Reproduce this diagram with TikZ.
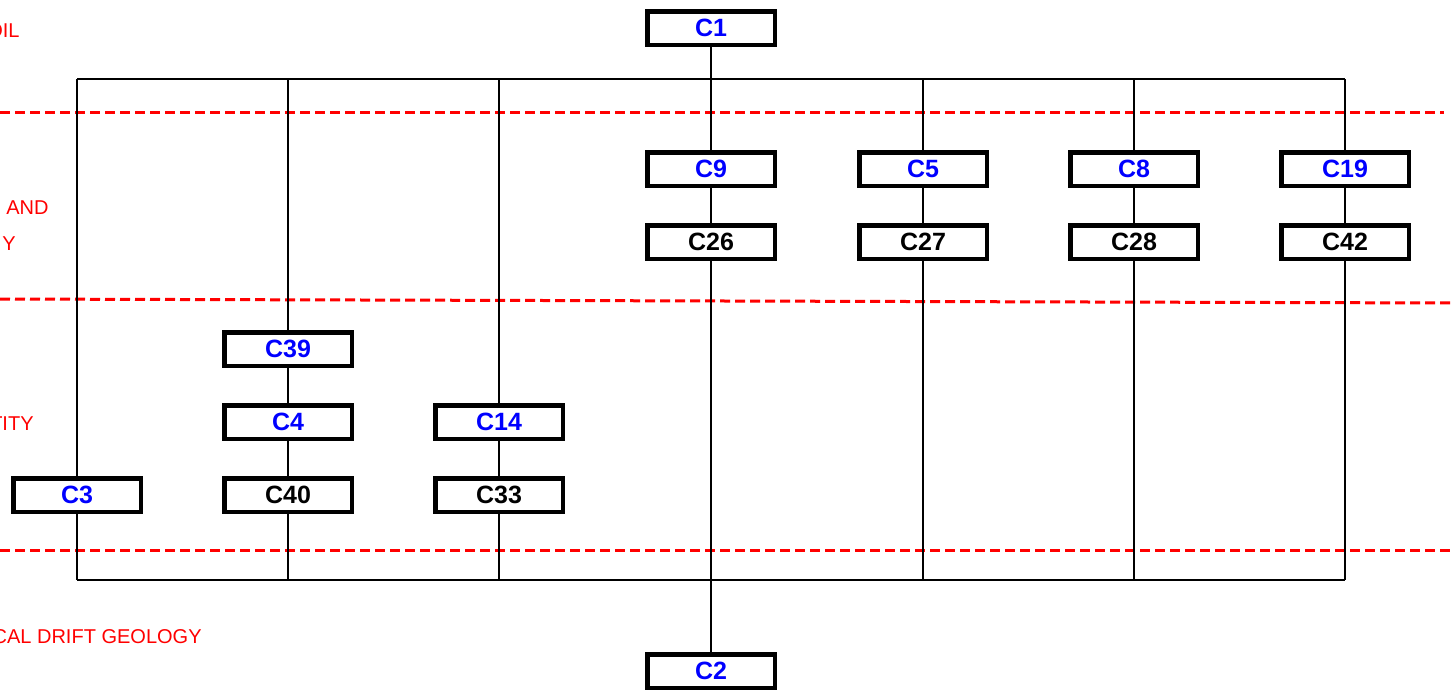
\documentclass[tikz,border=0pt]{standalone}
\usepackage{fontspec}
\setmainfont{Liberation Sans}
\usetikzlibrary{positioning, calc}
\definecolor{cLabelBlue}{RGB}{0,0,255}
\definecolor{cZoneRed}{RGB}{255,0,0}

\begin{document}
\begin{tikzpicture}[x=0.5pt, y=-0.5pt,
    unitbox/.style={draw, line width=2.25pt, fill=white, minimum width=63.75pt, minimum height=16.75pt, inner sep=0pt, font=\fontsize{12.5}{14}\selectfont\bfseries},
    topunit/.style={unitbox, text=cLabelBlue},
    lowunit/.style={unitbox, text=black},
    link/.style={line width=1pt},
    zoneline/.style={cZoneRed, line width=1.5pt, dash pattern=on 5pt off 2.5pt},
    zonetext/.style={cZoneRed, inner sep=0pt, anchor=base east, font=\fontsize{10}{12}\selectfont}]
    \useasboundingbox (0,0) rectangle (1454,691);
    \clip (0,0) rectangle (1454,691);

    % zone boundaries and zone names
    \draw[zoneline] (0,112) -- (1444,112);
    \draw[zoneline] (0,299) -- (1454,303);
    \draw[zoneline] (0,550) -- (1450,550);
    \node[zonetext] (zsoil) at (20,37) {OIL};
    \node[zonetext] (zand) at (49,214) {AND};
    \node[zonetext] (zy) at (16,250) {Y};
    \node[zonetext] (zity) at (34,430) {TITY};
    \node[zonetext] (zdrift) at (202,643) {CAL DRIFT GEOLOGY};

    % bus coordinates
    \coordinate (topL) at (77,79);
    \coordinate (topR) at (1345,79);
    \coordinate (botL) at (77,580);
    \coordinate (botR) at (1345,580);

    % top and bottom units
    \node[topunit] (c1) at (711,28) {C1};
    \node[topunit] (c2) at (711,671) {C2};

    % upper zone columns
    \node[topunit] (c9) at (711,169) {C9};
    \node[lowunit] (c26) at (711,242) {C26};
    \node[topunit] (c5) at (923,169) {C5};
    \node[lowunit] (c27) at (923,242) {C27};
    \node[topunit] (c8) at (1134,169) {C8};
    \node[lowunit] (c28) at (1134,242) {C28};
    \node[topunit] (c19) at (1345,169) {C19};
    \node[lowunit] (c42) at (1345,242) {C42};

    % lower zone columns
    \node[topunit] (c3) at (77,495) {C3};
    \node[topunit] (c39) at (288,349) {C39};
    \node[topunit] (c4) at (288,422) {C4};
    \node[lowunit] (c40) at (288,495) {C40};
    \node[topunit] (c14) at (499,422) {C14};
    \node[lowunit] (c33) at (499,495) {C33};

    % buses
    \draw[link] (topL) -- (topR);
    \draw[link] (botL) -- (botR);

    % connectors
    \draw[link] (c1) -- (c9);
    \draw[link] (c9) -- (c26);
    \draw[link] (c26) -- (c2);
    \draw[link] (c5 |- topL) -- (c5);
    \draw[link] (c5) -- (c27);
    \draw[link] (c27) -- (c27 |- botL);
    \draw[link] (c8 |- topL) -- (c8);
    \draw[link] (c8) -- (c28);
    \draw[link] (c28) -- (c28 |- botL);
    \draw[link] (topR) -- (c19);
    \draw[link] (c19) -- (c42);
    \draw[link] (c42) -- (botR);
    \draw[link] (topL) -- (c3);
    \draw[link] (c3) -- (botL);
    \draw[link] (c39 |- topL) -- (c39);
    \draw[link] (c39) -- (c4);
    \draw[link] (c4) -- (c40);
    \draw[link] (c40) -- (c40 |- botL);
    \draw[link] (c14 |- topL) -- (c14);
    \draw[link] (c14) -- (c33);
    \draw[link] (c33) -- (c33 |- botL);
\end{tikzpicture}
\end{document}
